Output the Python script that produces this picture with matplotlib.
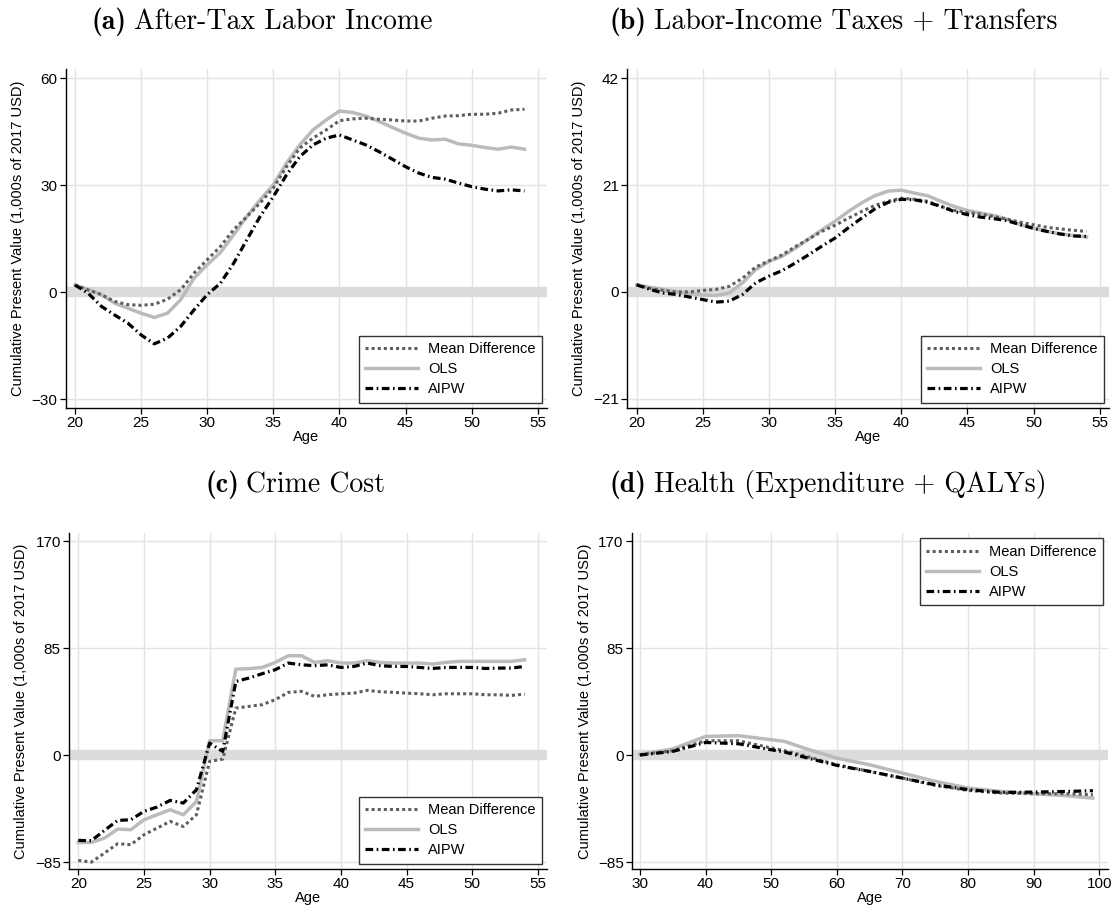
import matplotlib
matplotlib.use("Agg")
import matplotlib.pyplot as plt

plt.rcParams['font.family'] = ['Liberation Sans', 'DejaVu Sans']
plt.rcParams['mathtext.fontset'] = 'cm'

series_names = ["Mean Difference", "OLS", "AIPW"]

# Panel (a) After-Tax Labor Income
age_a = list(range(20, 55))
md_a = [2.0, 0.6, -0.7, -2.6, -3.5, -3.7, -3.4, -2.0, 0.7, 5.3, 9.1, 12.8, 17.5, 21.2, 25.0,
        29.2, 35.2, 40.4, 43.2, 45.5, 48.1, 48.6, 48.8, 48.5, 48.3, 48.0, 48.0, 48.8, 49.4,
        49.5, 49.9, 49.9, 50.2, 51.1, 51.3]
ols_a = [2.0, 0.8, -0.7, -3.1, -4.5, -5.9, -7.1, -5.9, -2.1, 3.9, 7.7, 11.1, 16.1, 21.2, 25.9,
         30.1, 36.2, 41.3, 45.5, 48.3, 50.8, 50.4, 49.4, 47.9, 46.2, 44.6, 43.2, 42.7, 42.9,
         41.6, 41.2, 40.6, 40.1, 40.7, 40.1]
aipw_a = [2.0, -0.3, -4.0, -6.4, -8.7, -12.0, -14.5, -12.9, -9.6, -5.0, -0.7, 2.5, 8.1, 14.7,
          21.2, 26.8, 32.9, 38.0, 41.3, 43.2, 44.1, 42.7, 41.3, 39.4, 37.3, 35.2, 33.4, 32.2,
          31.7, 30.6, 29.6, 28.9, 28.4, 28.7, 28.4]

# Panel (b) Labor-Income Taxes + Transfers
age_b = list(range(20, 55))
md_b = [1.4, 0.7, 0.3, 0.0, 0.0, 0.3, 0.5, 1.1, 2.7, 4.9, 6.1, 7.3, 8.9, 10.4, 11.9,
        13.1, 14.5, 15.8, 17.0, 17.8, 18.4, 18.2, 17.8, 16.8, 16.0, 15.6, 15.3, 14.8, 14.3,
        13.7, 13.2, 12.7, 12.4, 12.1, 11.9]
ols_b = [1.4, 0.9, 0.5, 0.0, -0.3, -0.6, -0.7, -0.2, 1.8, 4.4, 6.0, 7.0, 8.6, 10.4, 12.2,
         13.9, 15.8, 17.5, 18.9, 19.8, 20.0, 19.4, 18.9, 17.8, 16.8, 16.0, 15.5, 15.0, 14.3,
         13.2, 12.5, 11.9, 11.4, 11.1, 10.8]
aipw_b = [1.4, 0.5, -0.2, -0.5, -1.0, -1.5, -2.0, -1.8, -0.5, 1.8, 3.1, 4.2, 5.7, 7.3, 9.0,
          10.6, 12.6, 14.5, 16.3, 17.6, 18.2, 18.1, 17.6, 16.8, 15.8, 15.2, 14.7, 14.4, 14.0,
          13.2, 12.5, 11.9, 11.4, 11.0, 10.9]

# Panel (c) Crime Cost
age_c = list(range(20, 55))
md_c = [-83.7, -85.0, -77.8, -70.4, -71.2, -63.3, -58.0, -52.7, -56.7, -47.4, -5.0, -3.2,
        37.3, 38.7, 40.0, 44.0, 49.8, 50.6, 46.6, 47.9, 48.7, 49.2, 51.4, 50.3, 49.8, 49.2,
        48.7, 47.9, 48.7, 48.7, 48.7, 47.9, 47.9, 47.4, 48.4]
ols_c = [-69.4, -69.4, -65.9, -58.8, -59.3, -51.4, -47.4, -43.4, -47.4, -36.8, 11.4, 11.4,
         68.3, 68.6, 69.6, 73.6, 78.9, 78.9, 73.6, 74.9, 73.1, 73.1, 74.9, 73.6, 73.1, 73.1,
         73.1, 72.3, 73.6, 74.4, 74.4, 74.4, 74.4, 74.4, 75.7]
aipw_c = [-67.8, -68.0, -59.8, -51.9, -51.4, -44.7, -41.3, -36.0, -38.1, -27.5, 9.5, 2.9,
          58.5, 61.2, 64.6, 67.8, 73.1, 71.7, 71.0, 71.7, 69.6, 70.4, 73.1, 71.0, 70.4, 70.4,
          69.6, 68.8, 69.6, 69.6, 69.6, 68.8, 69.1, 69.1, 70.4]

# Panel (d) Health (Expenditure + QALYs)
age_d = [30, 35, 40, 45, 50, 52, 55, 60, 65, 70, 75, 80, 85, 90, 95, 99]
md_d = [0.3, 3.4, 11.4, 11.4, 5.6, 3.5, -0.5, -7.7, -13.0, -18.3, -24.1, -28.1, -30.2, -30.7,
        -30.7, -31.5]
ols_d = [0.5, 4.8, 14.8, 15.4, 12.2, 10.9, 5.6, -2.4, -7.7, -14.3, -20.9, -26.2, -28.9, -30.7,
         -32.3, -34.2]
aipw_d = [0.0, 2.9, 10.0, 9.0, 4.2, 2.5, -1.6, -8.2, -13.0, -18.3, -23.6, -27.5, -29.7, -29.4,
          -28.9, -28.3]

titles = ["(a)", "(b)", "(c)", "(d)"]
title_texts = ["After-Tax Labor Income", "Labor-Income Taxes + Transfers", "Crime Cost",
               "Health (Expenditure + QALYs)"]
yticks_all = [[-30, 0, 30, 60], [-21, 0, 21, 42], [-85, 0, 85, 170], [-85, 0, 85, 170]]
xticks_all = [list(range(20, 56, 5))] * 3 + [list(range(30, 101, 10))]
ylabel = "Cumulative Present Value (1,000s of 2017 USD)"
xlabel = "Age"

W, H = 1111, 911
fig = plt.figure(figsize=(W / 100, H / 100), dpi=100)

def rect(l, r, t, b):
    return [l / W, 1 - b / H, (r - l) / W, (b - t) / H]

rects = [rect(65.7, 547, 69, 408), rect(627.4, 1109, 69, 408),
         rect(69.1, 547, 533, 869), rect(632, 1108, 533, 869)]
xlims = [(19.3, 55.7), (19.3, 55.7), (19.3, 55.7), (28.8, 101.3)]
ylims = [(-32.5, 62.6), (-22.8, 43.8), (-90.5, 176.4), (-90.5, 176.4)]
legend_locs = ["lower right", "lower right", "lower right", "upper right"]
# (left edge, vertical centre) of each panel title in pixels
title_pos = [(92, 22), (610, 22), (205, 485), (610, 485)]

data = [(age_a, md_a, ols_a, aipw_a), (age_b, md_b, ols_b, aipw_b),
        (age_c, md_c, ols_c, aipw_c), (age_d, md_d, ols_d, aipw_d)]

fig.canvas.draw()
renderer = fig.canvas.get_renderer()

for i in range(4):
    ax = fig.add_axes(rects[i])
    x, md, ols, aipw = data[i]
    ax.axhline(0, color='#dcdcdc', lw=7.5, zorder=1)
    ax.plot(x, md, color='#5e5e5e', lw=2.2, linestyle=(0, (1, 1)), label=series_names[0], zorder=3)
    ax.plot(x, ols, color='#bbbbbb', lw=2.5, linestyle='-', label=series_names[1], zorder=2)
    ax.plot(x, aipw, color='black', lw=2.3, linestyle=(0, (2.4, 1.1, 0.5, 1.1)),
            label=series_names[2], zorder=4)
    ax.set_xlim(*xlims[i])
    ax.set_ylim(*ylims[i])
    ax.set_xticks(xticks_all[i])
    ax.set_yticks(yticks_all[i])
    ax.set_yticklabels([str(v).replace('-', '\u2212') for v in yticks_all[i]])
    ax.grid(True, color='#e3e3e3', lw=1.0, zorder=0)
    ax.set_axisbelow(True)
    for s in ['top', 'right']:
        ax.spines[s].set_visible(False)
    for s in ['left', 'bottom']:
        ax.spines[s].set_linewidth(1.0)
        ax.spines[s].set_color('black')
    ax.tick_params(axis='both', direction='out', length=4, width=0.9, labelsize=11, pad=2)
    ax.set_xlabel(xlabel, fontsize=10.5, labelpad=0)
    ax.set_ylabel(ylabel, fontsize=10.5)
    ax.yaxis.set_label_coords(-0.085, 0.5)
    leg = ax.legend(loc=legend_locs[i], fontsize=10.5, handlelength=3.6, frameon=True,
                    fancybox=False, edgecolor='#333333', framealpha=1, borderaxespad=0.35,
                    borderpad=0.45, labelspacing=0.42, handletextpad=0.7)
    leg.get_frame().set_linewidth(1.0)
    tx, ty = title_pos[i]
    t1 = fig.text(tx / W, 1 - ty / H, titles[i], fontfamily='cmb10', fontsize=20,
                  ha='left', va='center')
    bb = t1.get_window_extent(renderer=renderer)
    fig.text((bb.x1 + 7) / W, 1 - ty / H, title_texts[i], fontfamily='cmr10', fontsize=20,
             ha='left', va='center')

fig.savefig("out.png", dpi=100)
